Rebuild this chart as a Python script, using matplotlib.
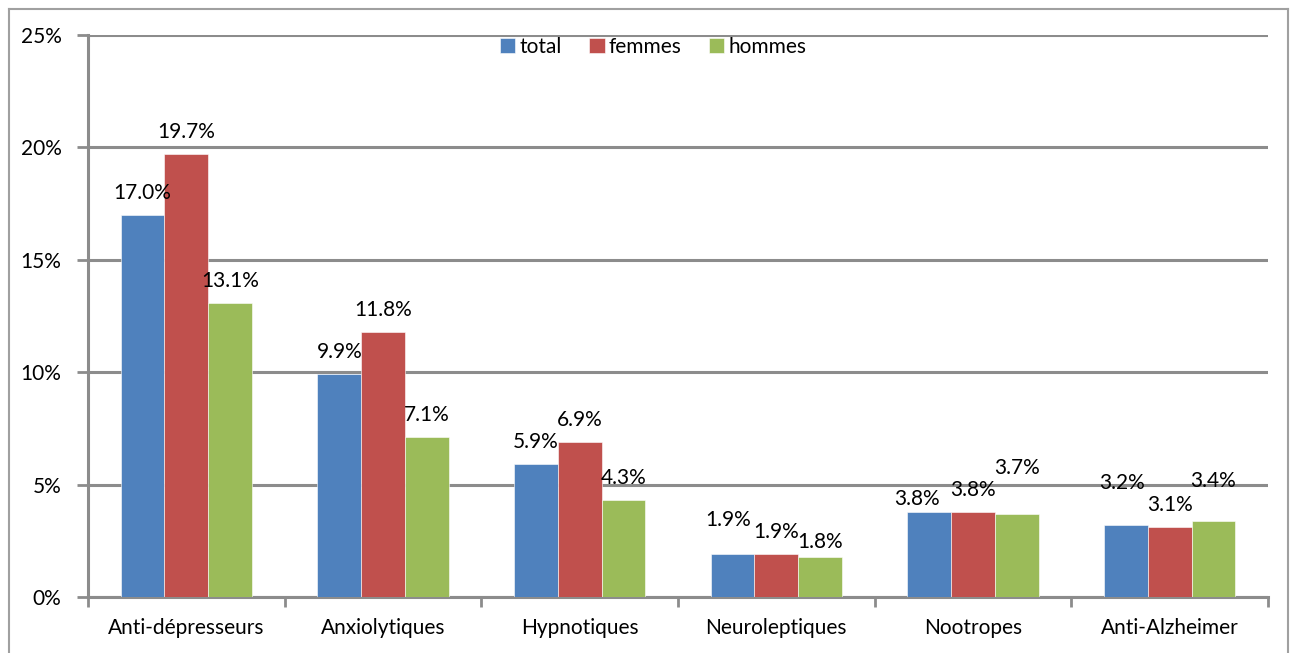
import matplotlib
matplotlib.use("Agg")
import matplotlib.pyplot as plt
from matplotlib.lines import Line2D
import numpy as np

categories = ["Anti-dépresseurs", "Anxiolytiques", "Hypnotiques", "Neuroleptiques", "Nootropes", "Anti-Alzheimer"]
series_names = ["total", "femmes", "hommes"]
total = [17.0, 9.9, 5.9, 1.9, 3.8, 3.2]
femmes = [19.7, 11.8, 6.9, 1.9, 3.8, 3.1]
hommes = [13.1, 7.1, 4.3, 1.8, 3.7, 3.4]
yticks = [0, 5, 10, 15, 20, 25]
ytick_labels = ["0%", "5%", "10%", "15%", "20%", "25%"]

colors = ["#4F81BD", "#C0504D", "#9BBB59"]
grey = "#8c8c8c"
FS = 15

# manual label offsets (pixels) relative to default placement: (dx, dy)
label_shift = {
    (0, 3): (-4, 12), (2, 3): (0, -7),
    (0, 4): (-12, -9), (2, 4): (0, 24),
    (0, 5): (-4, 20), (2, 5): (0, 18),
}

plt.rcParams['font.family'] = ['Lato', 'DejaVu Sans']

fig = plt.figure(figsize=(12.98, 6.53), dpi=100)
ax = fig.add_axes([88/1298, 1-597/653, 1180/1298, 562/653])

x = np.arange(len(categories))
w = 1/4.5
data = [total, femmes, hommes]
for s, (vals, name, c) in enumerate(zip(data, series_names, colors)):
    pos = x + (s-1)*w
    ax.bar(pos, vals, width=w, color=c, edgecolor='white', linewidth=0.4, label=name, zorder=3)
    for i, v in enumerate(vals):
        dx, dy = label_shift.get((s, i), (0, 0))
        ax.annotate(f"{v:.1f}%", (pos[i], v), xytext=(dx, 22+dy), textcoords='offset pixels',
                    ha='center', va='center', fontsize=FS, color='black', zorder=4)

ax.set_xlim(-0.5, len(categories)-0.5)
ax.set_ylim(0, 25)
ax.set_yticks(yticks)
ax.set_yticklabels(ytick_labels, fontsize=FS)
ax.set_xticks(x)
ax.set_xticklabels(categories, fontsize=FS)
ax.set_xticks(np.arange(-0.5, len(categories)), minor=True)
ax.tick_params(axis='x', which='major', length=0, pad=15)
ax.tick_params(axis='x', which='minor', length=7, width=2, color=grey, direction='out')
ax.tick_params(axis='y', which='major', length=8, width=2, color=grey, pad=11)
ax.yaxis.grid(True, color=grey, linewidth=2.2, zorder=0)
ax.set_axisbelow(True)
for sp in ['top', 'right']:
    ax.spines[sp].set_visible(False)
for sp in ['left', 'bottom']:
    ax.spines[sp].set_color(grey)
    ax.spines[sp].set_linewidth(2.2)

leg = ax.legend(loc='upper center', bbox_to_anchor=(0.479, 1.012), ncol=3, frameon=False,
                fontsize=FS, handlelength=0.75, handleheight=0.75, handletextpad=0.2,
                columnspacing=1.3, borderaxespad=0.0)

# figure frame
fx0, fx1, fy0 = 9/1298, 1288/1298, 1-9/653
for xs, ys in [([fx0, fx0], [0, fy0]), ([fx1, fx1], [0, fy0]), ([fx0, fx1], [fy0, fy0])]:
    fig.add_artist(Line2D(xs, ys, color='#a0a0a0', linewidth=1.5, transform=fig.transFigure))

fig.savefig("out.png", dpi=100)
